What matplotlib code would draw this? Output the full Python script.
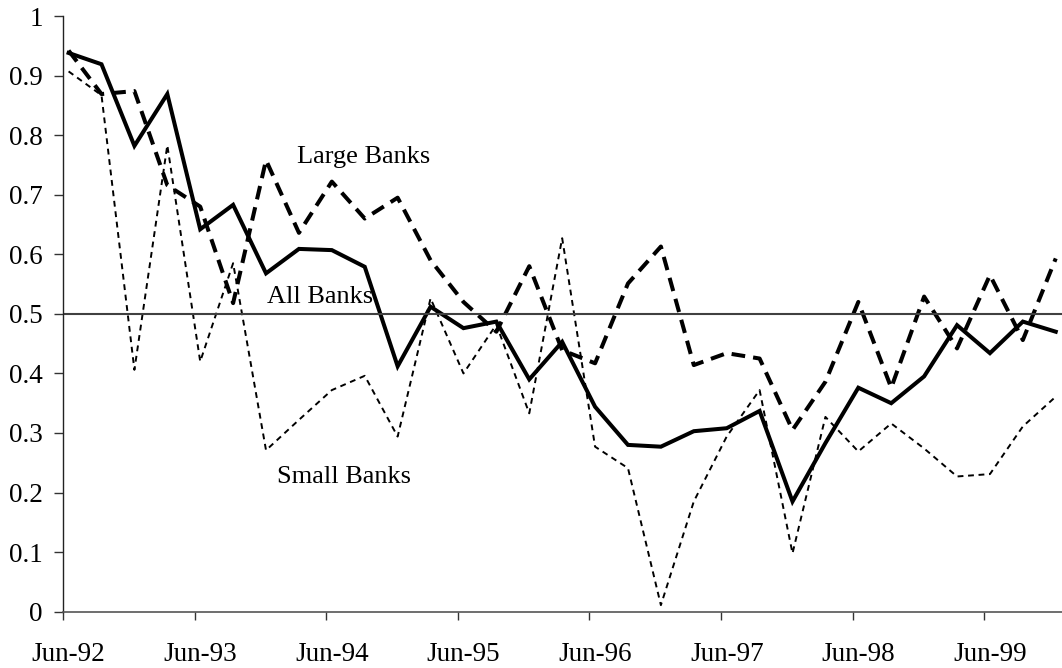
import numpy as np
import matplotlib
matplotlib.use("Agg")
import matplotlib.pyplot as plt

plt.rcParams['font.family'] = ['Liberation Serif', 'DejaVu Serif']

# ----------------------- Data (quarterly, Jun-92 .. Dec-99) ---------------------------
quarters = np.arange(31)
year_labels = ["Jun-92", "Jun-93", "Jun-94", "Jun-95", "Jun-96", "Jun-97", "Jun-98", "Jun-99"]

all_banks = [0.938, 0.919, 0.782, 0.869, 0.642, 0.683, 0.568, 0.609, 0.607, 0.579,
             0.412, 0.512, 0.476, 0.487, 0.390, 0.453, 0.344, 0.280, 0.277, 0.303,
             0.308, 0.337, 0.185, 0.283, 0.376, 0.350, 0.395, 0.481, 0.434, 0.487,
             0.470]

large_banks = [0.942, 0.869, 0.874, 0.716, 0.680, 0.518, 0.758, 0.636, 0.722, 0.660,
               0.695, 0.590, 0.520, 0.470, 0.580, 0.439, 0.417, 0.551, 0.613, 0.414,
               0.434, 0.425, 0.305, 0.386, 0.520, 0.376, 0.529, 0.442, 0.565, 0.456,
               0.593]

small_banks = [0.907, 0.867, 0.406, 0.783, 0.420, 0.585, 0.271, 0.322, 0.372, 0.396,
               0.294, 0.526, 0.400, 0.482, 0.333, 0.627, 0.277, 0.241, 0.011, 0.185,
               0.294, 0.372, 0.098, 0.327, 0.269, 0.316, 0.274, 0.227, 0.231, 0.311,
               0.361]

reference_level = 0.5

# points sit a little to the right of the year tick marks
x = quarters + 0.17

# ----------------------- Plot ---------------------------
fig = plt.figure(figsize=(10.62, 6.68), dpi=100)
ax = fig.add_axes([63 / 1062, (668 - 611.7) / 668, 999 / 1062, 595.7 / 668])

ax.plot(x, small_banks, color='black', linewidth=1.4, linestyle=(0, (3.0, 2.4)),
        dash_capstyle='butt')
ax.plot(x, large_banks, color='black', linewidth=2.9, linestyle=(0, (3.4, 2.0)),
        dash_capstyle='butt')
ax.plot(x, all_banks, color='black', linewidth=2.9, solid_joinstyle='miter')
ax.axhline(reference_level, color='#404040', linewidth=1.5)

ax.text(7.10, 0.753, "Large Banks", fontsize=19, va='baseline', ha='left')
ax.text(6.19, 0.519, "All Banks", fontsize=19, va='baseline', ha='left')
ax.text(6.49, 0.2155, "Small Banks", fontsize=19, va='baseline', ha='left')

ax.set_xlim(0, 30.36)
ax.set_ylim(0, 1)

# labels under the June points, tick marks at the year boundaries
ax.set_xticks(np.arange(0, 29, 4) + 0.17)
ax.set_xticklabels(year_labels, fontsize=19.5)
ax.set_xticks(np.arange(0, 29, 4), minor=True)
ax.tick_params(axis='x', which='major', length=0, pad=22)
ax.tick_params(axis='x', which='minor', length=7.7 * 0.72, width=1, color='#333333')

yt = np.round(np.arange(0, 1.01, 0.1), 1)
ax.set_yticks(yt)
ax.set_yticklabels(["0" if v == 0 else ("1" if v == 1 else f"{v:.1f}") for v in yt], fontsize=19.5)
ax.tick_params(axis='y', length=9 * 0.72, width=1, pad=8, color='#333333')

for side in ['top', 'right']:
    ax.spines[side].set_visible(False)
ax.spines['left'].set_color('#222222')
ax.spines['bottom'].set_color('#555555')
ax.spines['left'].set_linewidth(1)
ax.spines['bottom'].set_linewidth(1.2)

plt.savefig("out.png", dpi=100)
